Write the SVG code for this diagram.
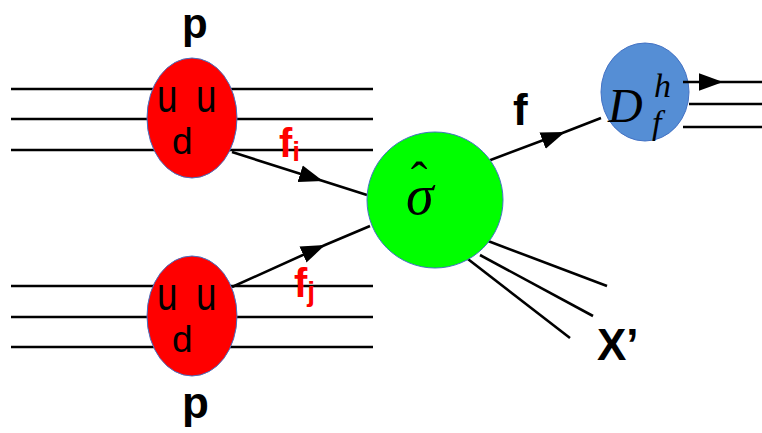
<svg xmlns="http://www.w3.org/2000/svg" width="762" height="433" viewBox="0 0 762 433">
<style>
.ln{stroke:#000;stroke-width:2.6;fill:none}
.lbl{font-family:"Liberation Sans",Arial,sans-serif;font-weight:bold;fill:#000}
.red{fill:#ff0000}
.q{font-family:"Liberation Sans",Arial,sans-serif;fill:#000}
.math{font-family:"Liberation Serif","Times New Roman",serif;font-style:italic;fill:#000}
</style>
<defs>
<marker id="arr" markerUnits="userSpaceOnUse" markerWidth="24" markerHeight="18" refX="22" refY="8" orient="auto" viewBox="0 0 22 16">
<path d="M0,0 L22,8 L0,16 z" fill="#000"/>
</marker>
</defs>
<rect width="762" height="433" fill="#fff"/>
<g id="connectors">
<line class="ln" x1="11" y1="89" x2="373" y2="89"/>
<line class="ln" x1="11" y1="119" x2="373" y2="119"/>
<line class="ln" x1="11" y1="150" x2="373" y2="150"/>
<line class="ln" x1="11" y1="286" x2="373" y2="286"/>
<line class="ln" x1="11" y1="317" x2="373" y2="317"/>
<line class="ln" x1="11" y1="347" x2="373" y2="347"/>
<polyline class="ln" points="232,152 323,181 367,195" marker-mid="url(#arr)"/>
<polyline class="ln" points="232,287 325,245 370,226" marker-mid="url(#arr)"/>
<polyline class="ln" points="480,164 565,132 601,118" marker-mid="url(#arr)"/>
<line class="ln" x1="488" y1="241" x2="607" y2="286"/>
<line class="ln" x1="480" y1="255" x2="593" y2="316"/>
<line class="ln" x1="464" y1="256" x2="570" y2="338"/>
</g>
<g id="proton-top">
<ellipse cx="192" cy="118" rx="45" ry="60" fill="#ff0000" stroke="#4472c4" stroke-width="1"/>
<text class="q" font-size="46" transform="translate(157,112) scale(0.8,1)">u</text>
<text class="q" font-size="46" transform="translate(196,112) scale(0.8,1)">u</text>
<text class="q" font-size="37" x="172" y="154">d</text>
</g>
<g id="proton-bottom">
<ellipse cx="192" cy="316" rx="45" ry="60" fill="#ff0000" stroke="#4472c4" stroke-width="1"/>
<text class="q" font-size="46" transform="translate(157,310) scale(0.8,1)">u</text>
<text class="q" font-size="46" transform="translate(196,310) scale(0.8,1)">u</text>
<text class="q" font-size="37" x="172" y="352">d</text>
</g>
<g id="sigma">
<circle cx="435" cy="200" r="68" fill="#00ff00" stroke="#4472c4" stroke-width="1"/>
<text class="math" x="406" y="214" font-size="56">σ<tspan font-style="normal" font-size="50" dx="-23" dy="-17">ˆ</tspan></text>
</g>
<g id="frag">
<ellipse cx="645" cy="92" rx="44" ry="49" fill="#558ed5" stroke="#4472c4" stroke-width="1"/>
<text class="math" x="608" y="122" font-size="48">D</text>
<text class="math" x="654" y="97" font-size="34">h</text>
<text class="math" x="652" y="134" font-size="34">f</text>
</g>
<g id="outgoing">
<polyline class="ln" points="683,82 723,82 762,82" marker-mid="url(#arr)"/>
<line class="ln" x1="689" y1="104" x2="762" y2="104"/>
<line class="ln" x1="683" y1="127" x2="762" y2="127"/>
</g>
<g id="labels">
<text class="lbl" x="182" y="38" font-size="42">p</text>
<text class="lbl" x="182" y="418" font-size="44">p</text>
<text class="lbl" x="513" y="125" font-size="44">f</text>
<text class="lbl" x="597" y="360" font-size="44">X’</text>
<text class="lbl red" x="279" y="157" font-size="40">f<tspan font-size="28" dy="4">i</tspan></text>
<text class="lbl red" x="294" y="297" font-size="40">f<tspan font-size="28" dy="4">j</tspan></text>
</g>
</svg>
